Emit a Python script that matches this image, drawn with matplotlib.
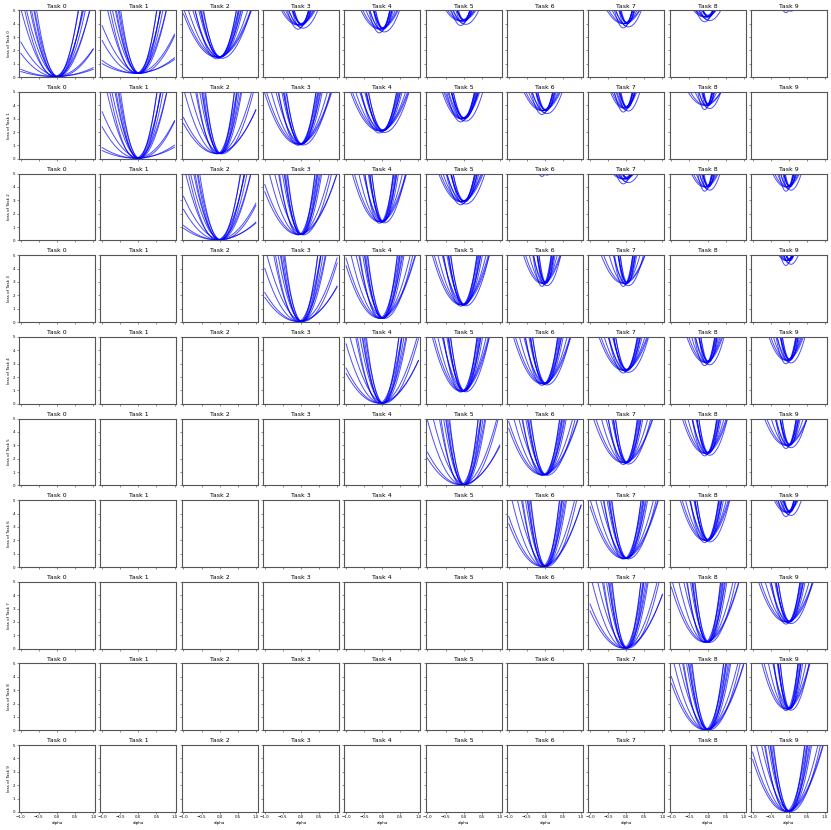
import numpy as np
from matplotlib import pyplot as plt

N_TASKS = 10
alphas = np.linspace(-1.0, 1.0, 201)

# minimum loss of task i (row) on the model after task j (column);
# None = not evaluated (stored as zeros)
MIN_LOSS = [
    [0.05, 0.30, 1.50, 3.90, 3.60, 4.20, 5.60, 4.00, 4.50, 5.25],
    [None, 0.05, 0.40, 1.10, 2.10, 3.00, 3.60, 3.80, 4.00, 5.60],
    [None, None, 0.05, 0.45, 1.40, 2.90, 5.20, 4.60, 4.00, 4.00],
    [None, None, None, 0.05, 0.30, 1.30, 2.90, 2.90, 5.60, 4.60],
    [None, None, None, None, 0.05, 0.95, 1.50, 2.50, 3.10, 3.25],
    [None, None, None, None, None, 0.05, 0.80, 1.70, 2.40, 3.00],
    [None, None, None, None, None, None, 0.05, 0.65, 2.00, 4.10],
    [None, None, None, None, None, None, None, 0.05, 0.50, 2.00],
    [None, None, None, None, None, None, None, None, 0.05, 1.60],
    [None, None, None, None, None, None, None, None, None, 0.05],
]

# sharpness scale and curvature floor of each panel
SHARP = [
    [1.0, 1.25, 0.9, 1.5, 2.0, 1.7, 2.0, 2.4, 1.4, 2.5],
    [0, 1.3, 1.8, 1.3, 1.0, 1.0, 1.8, 2.2, 4.3, 2.0],
    [0, 0, 1.0, 1.9, 2.3, 1.2, 3.0, 2.0, 4.0, 4.0],
    [0, 0, 0, 1.5, 1.6, 1.5, 4.0, 4.0, 2.0, 3.0],
    [0, 0, 0, 0, 1.5, 1.6, 1.6, 1.5, 2.7, 2.6],
    [0, 0, 0, 0, 0, 2.0, 1.5, 2.1, 2.3, 3.0],
    [0, 0, 0, 0, 0, 0, 1.9, 1.5, 1.8, 2.5],
    [0, 0, 0, 0, 0, 0, 0, 1.9, 2.1, 1.9],
    [0, 0, 0, 0, 0, 0, 0, 0, 1.5, 3.2],
    [0, 0, 0, 0, 0, 0, 0, 0, 0, 1.5],
]
FLOOR = [
    [0.0, 0.3, 3.5, 4.7, 4.7, 4.2, 5.0, 4.0, 5.0, 8.0],
    [0, 0.1, 1.9, 4.0, 4.2, 7.5, 5.0, 9.0, 3.0, 5.0],
    [0, 0, 0.6, 3.0, 5.5, 5.3, 8.0, 4.0, 6.0, 6.0],
    [0, 0, 0, 1.5, 4.0, 5.5, 6.5, 4.0, 5.0, 10.0],
    [0, 0, 0, 0, 2.0, 6.0, 5.0, 5.0, 7.0, 7.0],
    [0, 0, 0, 0, 0, 1.5, 3.5, 4.0, 6.0, 4.5],
    [0, 0, 0, 0, 0, 0, 3.0, 4.0, 6.0, 8.0],
    [0, 0, 0, 0, 0, 0, 0, 2.5, 4.0, 4.5],
    [0, 0, 0, 0, 0, 0, 0, 0, 3.5, 6.5],
    [0, 0, 0, 0, 0, 0, 0, 0, 0, 4.0],
]

# per random direction: curvature, centre offset, relative dip of minimum
DIR_CURV = [0.45, 0.6, 1.9, 2.3, 5.5, 6.5, 7.5, 8.5, 10.0, 11.5, 13.0, 15.0]
DIR_SHIFT = [-0.09, -0.05, -0.045, 0.06, -0.04, 0.03, -0.08, 0.02, 0.0, 0.04, -0.02, 0.01]
DIR_DIP = [0.0, 0.0, 0.0, -0.06, 0.0, 0.02, -0.08, 0.0, 0.03, 0.0, -0.04, 0.0]

fig, axes = plt.subplots(N_TASKS, N_TASKS, sharex=True, sharey=True, figsize=(8.31, 8.30), dpi=100)
fig.subplots_adjust(left=0.0229, right=0.995, top=0.9876, bottom=0.0217, wspace=0.07, hspace=0.22)

for i in range(N_TASKS):
    for j in range(N_TASKS):
        ax = axes[i, j]
        m = MIN_LOSS[i][j]
        for d in range(len(DIR_CURV)):
            if m is None:
                loss = np.zeros_like(alphas)
            else:
                k = DIR_CURV[d] * SHARP[i][j] + FLOOR[i][j]
                loss = m * (1 + DIR_DIP[d]) + k * (alphas - DIR_SHIFT[d]) ** 2
            ax.plot(alphas, loss, color="b", alpha=0.7, lw=0.7)

        ax.set_title("Task %d" % j, fontsize=4.5, pad=2)
        ax.set_xlim(-1.05, 1.05)
        ax.set_ylim(0, 5)
        ax.set_xticks([-1.0, -0.5, 0.0, 0.5, 1.0])
        ax.set_yticks([0, 1, 2, 3, 4, 5])
        ax.tick_params(labelsize=2.9, length=1.5, width=0.4, pad=1, color="#333333")
        for s in ax.spines.values():
            s.set_linewidth(0.8)
            s.set_color("#555555")
        if j == 0:
            ax.set_ylabel("loss of Task %d" % i, fontsize=2.9, labelpad=1.5)
        if i == N_TASKS - 1:
            ax.set_xlabel("alpha", fontsize=2.9, labelpad=1)

fig.savefig("out.png", dpi=100)
